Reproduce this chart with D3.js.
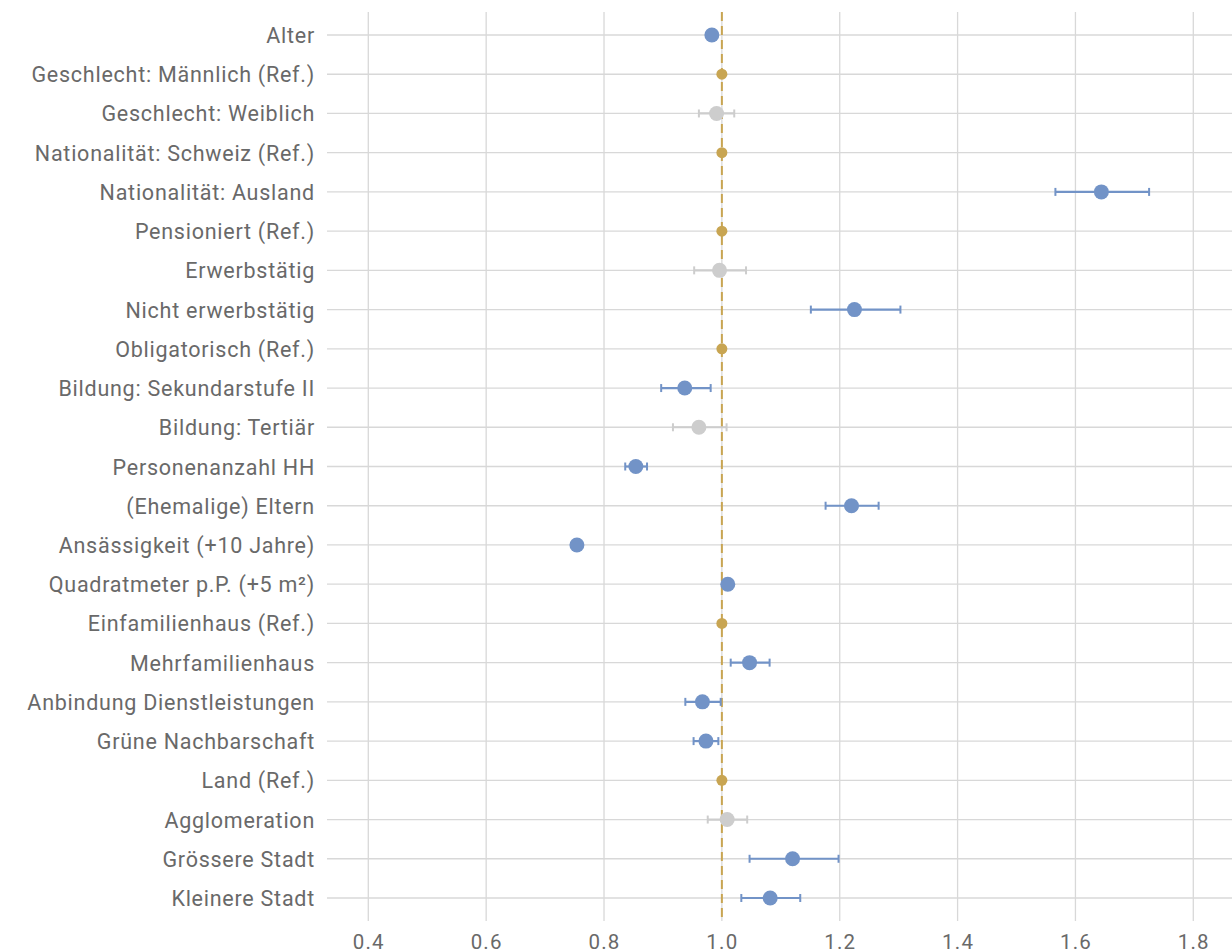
<!DOCTYPE html>
<html>
<head>
<meta charset="utf-8">
<script src="https://cdn.jsdelivr.net/npm/d3@7"></script>
<style>
  html, body { margin: 0; padding: 0; background: #fff; }
  svg { display: block; }
  text { font-family: Roboto, "Liberation Sans", sans-serif; fill: #696969; }
</style>
</head>
<body>
<svg id="chart" width="1232" height="952"></svg>
<script>
const categories = [
  "Alter",
  "Geschlecht: Männlich (Ref.)",
  "Geschlecht: Weiblich",
  "Nationalität: Schweiz (Ref.)",
  "Nationalität: Ausland",
  "Pensioniert (Ref.)",
  "Erwerbstätig",
  "Nicht erwerbstätig",
  "Obligatorisch (Ref.)",
  "Bildung: Sekundarstufe II",
  "Bildung: Tertiär",
  "Personenanzahl HH",
  "(Ehemalige) Eltern",
  "Ansässigkeit (+10 Jahre)",
  "Quadratmeter p.P. (+5 m²)",
  "Einfamilienhaus (Ref.)",
  "Mehrfamilienhaus",
  "Anbindung Dienstleistungen",
  "Grüne Nachbarschaft",
  "Land (Ref.)",
  "Agglomeration",
  "Grössere Stadt",
  "Kleinere Stadt"
];
const estimates = [0.983, 1.0, 0.991, 1.0, 1.644, 1.0, 0.996, 1.225, 1.0, 0.937, 0.961, 0.854, 1.220, 0.754, 1.010, 1.0, 1.047, 0.967, 0.973, 1.0, 1.009, 1.120, 1.082];
const lower =     [null, null, 0.961, null, 1.566, null, 0.953, 1.151, null, 0.897, 0.917, 0.836, 1.176, null, null, null, 1.015, 0.938, 0.952, null, 0.976, 1.047, 1.033];
const upper =     [null, null, 1.021, null, 1.725, null, 1.041, 1.303, null, 0.981, 1.008, 0.873, 1.266, null, null, null, 1.081, 0.998, 0.994, null, 1.043, 1.198, 1.133];
// kind: "sig" = significant (blue), "ns" = not significant (grey), "ref" = reference category
const kinds = ["sig","ref","ns","ref","sig","ref","ns","sig","ref","sig","ns","sig","sig","sig","sig","ref","sig","sig","sig","ref","ns","sig","sig"];
const xTicks = [0.4, 0.6, 0.8, 1.0, 1.2, 1.4, 1.6, 1.8];
const referenceValue = 1.0;

const colors = { sig: "#7293c7", ns: "#cdcdcd", ref: "#c8a552" };
const radius = { sig: 7.5, ns: 7.5, ref: 5.5 };

const svg = d3.select("#chart");
const x = d3.scaleLinear().domain([0.4, 1.8]).range([368.3, 1193.3]);
const y = d3.scalePoint().domain(categories).range([35, 898]);

const gridColor = "#d8d8d8";
const gridTop = 12, gridBottom = 921;

// vertical grid
svg.append("g").selectAll("line").data(xTicks).join("line")
  .attr("x1", d => x(d)).attr("x2", d => x(d))
  .attr("y1", gridTop).attr("y2", gridBottom)
  .attr("stroke", gridColor).attr("stroke-width", 1.3);

// horizontal grid
svg.append("g").selectAll("line").data(categories).join("line")
  .attr("x1", 327).attr("x2", 1232)
  .attr("y1", d => y(d)).attr("y2", d => y(d))
  .attr("stroke", gridColor).attr("stroke-width", 1.3);

// x axis labels
const xAxis = d3.axisBottom(x).tickValues(xTicks).tickFormat(d3.format(".1f")).tickSize(0).tickPadding(0);
const gx = svg.append("g").attr("transform", `translate(0, ${gridBottom})`).call(xAxis);
gx.select(".domain").remove();
gx.selectAll("text").attr("fill", "#696969").style("font-size", "20.5px")
  .style("letter-spacing", "1.2px")
  .attr("dy", null).attr("y", 27.5);

// y axis labels
const yAxis = d3.axisLeft(y).tickSize(0).tickPadding(0);
const gy = svg.append("g").attr("transform", "translate(315,0)").call(yAxis);
gy.select(".domain").remove();
gy.selectAll("text").attr("fill", "#696969").style("font-size", "21.5px")
  .style("letter-spacing", "0.75px")
  .attr("dy", null).attr("x", 0).attr("dominant-baseline", "central");

// reference dashed line
svg.append("line")
  .attr("x1", x(referenceValue)).attr("x2", x(referenceValue))
  .attr("y1", gridTop).attr("y2", gridBottom)
  .attr("stroke", colors.ref).attr("stroke-width", 2)
  .attr("stroke-dasharray", "9,5");

const rows = categories.map((c, i) => ({ c, v: estimates[i], lo: lower[i], hi: upper[i], k: kinds[i] }));
const withCI = rows.filter(d => d.lo != null && d.hi != null);

const eb = svg.append("g");
eb.selectAll("line.bar").data(withCI).join("line").attr("class", "bar")
  .attr("x1", d => x(d.lo)).attr("x2", d => x(d.hi))
  .attr("y1", d => y(d.c)).attr("y2", d => y(d.c))
  .attr("stroke", d => colors[d.k]).attr("stroke-width", 2.2);
eb.selectAll("line.capl").data(withCI).join("line").attr("class", "capl")
  .attr("x1", d => x(d.lo)).attr("x2", d => x(d.lo))
  .attr("y1", d => y(d.c) - 4).attr("y2", d => y(d.c) + 4)
  .attr("stroke", d => colors[d.k]).attr("stroke-width", 2);
eb.selectAll("line.capr").data(withCI).join("line").attr("class", "capr")
  .attr("x1", d => x(d.hi)).attr("x2", d => x(d.hi))
  .attr("y1", d => y(d.c) - 4).attr("y2", d => y(d.c) + 4)
  .attr("stroke", d => colors[d.k]).attr("stroke-width", 2);

svg.append("g").selectAll("circle").data(rows).join("circle")
  .attr("cx", d => x(d.v)).attr("cy", d => y(d.c))
  .attr("r", d => radius[d.k]).attr("fill", d => colors[d.k]);
</script>
</body>
</html>
